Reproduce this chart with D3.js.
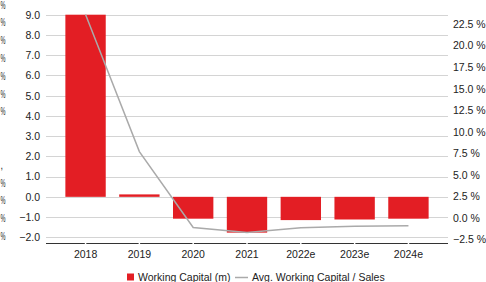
<!DOCTYPE html>
<html>
<head>
<meta charset="utf-8">
<script src="https://cdn.jsdelivr.net/npm/d3@7"></script>
<style>
  html, body { margin: 0; padding: 0; background: #fff; }
  svg { display: block; font-family: "Liberation Sans", Arial, sans-serif; }
</style>
</head>
<body>
<svg id="chart" width="486" height="282"></svg>
<script>
// ---- data ----
const categories = ["2018", "2019", "2020", "2021", "2022e", "2023e", "2024e"];
const workingCapital = [9.0, 0.12, -1.08, -1.77, -1.15, -1.12, -1.08];
const wcToSales = [23.6, 7.7, -1.1, -1.7, -1.13, -0.97, -0.9];
const leftTicks = [9, 8, 7, 6, 5, 4, 3, 2, 1, 0, -1, -2];
const rightTicks = [22.5, 20, 17.5, 15, 12.5, 10, 7.5, 5, 2.5, 0, -2.5];
const seriesNames = ["Working Capital (m)", "Avg. Working Capital / Sales"];
// labels of the neighbouring chart visible at the left edge
const ghostLabels = ["%", "%", "%", "%", "%", "%", "%", "", "", ",", "%", "%", "%", "%"];

// ---- layout ----
const plotLeft = 46, plotRight = 448;
const red = "#e31e24", grey = "#aaaaaa", grid = "#d4d4d4", textCol = "#222";
const fs = 10.5;

const svg = d3.select("#chart");

const x = d3.scaleBand().domain(categories).range([plotLeft, plotRight])
  .paddingInner(0.25).paddingOuter(0.36);
const yL = d3.scaleLinear().domain([-2, 9]).range([237.3, 14.7]);
const yR = d3.scaleLinear().domain([-2.5, 22.5]).range([239.5, 24]);
const yG = d3.scaleLinear().domain([0, 13]).range([5, 236.4]);

// gridlines
svg.append("g").selectAll("line").data(leftTicks).join("line")
  .attr("x1", plotLeft).attr("x2", plotRight)
  .attr("y1", d => Math.round(yL(d)) + 0.5).attr("y2", d => Math.round(yL(d)) + 0.5)
  .attr("stroke", grid).attr("stroke-width", 1);

// left axis labels
const axL = svg.append("g").attr("transform", `translate(${plotLeft},0)`)
  .call(d3.axisLeft(yL).tickValues(leftTicks).tickSize(0).tickPadding(6).tickFormat(d3.format(".1f")));
axL.select(".domain").remove();
axL.selectAll("text").attr("font-size", fs).attr("fill", textCol).attr("font-family", "Liberation Sans, Arial, sans-serif");

// right axis labels
const axR = svg.append("g").attr("transform", `translate(${plotRight},0)`)
  .call(d3.axisRight(yR).tickValues(rightTicks).tickSize(0).tickPadding(5)
    .tickFormat(d => d3.format(".1f")(d) + " %"));
axR.select(".domain").remove();
axR.selectAll("text").attr("font-size", fs).attr("fill", textCol).attr("font-family", "Liberation Sans, Arial, sans-serif");

// bars
svg.append("g").selectAll("rect").data(categories).join("rect")
  .attr("x", d => x(d))
  .attr("width", x.bandwidth())
  .attr("y", (d, i) => yL(Math.max(0, workingCapital[i])))
  .attr("height", (d, i) => Math.abs(yL(workingCapital[i]) - yL(0)))
  .attr("fill", red);

// line
const line = d3.line()
  .x((d, i) => x(categories[i]) + x.bandwidth() / 2)
  .y(d => yR(d));
svg.append("path").datum(wcToSales)
  .attr("d", line).attr("fill", "none")
  .attr("stroke", grey).attr("stroke-width", 1.5);

// x axis
const axisY = 243.5;
const axB = svg.append("g").attr("transform", `translate(0,${axisY})`)
  .call(d3.axisBottom(x).tickSize(0).tickPadding(7));
axB.select(".domain").attr("stroke", "#333").attr("stroke-width", 1)
  .attr("d", `M${plotLeft},0H${plotRight}`);
axB.selectAll("text").attr("font-size", fs).attr("fill", textCol).attr("font-family", "Liberation Sans, Arial, sans-serif");
axB.selectAll(".tick").append("line")
  .attr("y1", -1).attr("y2", 1.5).attr("stroke", "#fff").attr("stroke-width", 1.5);

// legend
const leg = svg.append("g").attr("font-size", fs).attr("fill", textCol);
const legY = 277;
leg.append("rect").attr("x", 127).attr("y", legY - 3.5).attr("width", 7).attr("height", 7).attr("fill", red);
leg.append("text").attr("x", 138).attr("y", legY).attr("dy", "0.35em").text(seriesNames[0]).attr("fill", textCol);
leg.append("line").attr("x1", 235).attr("x2", 248).attr("y1", legY + 0.5).attr("y2", legY + 0.5)
  .attr("stroke", grey).attr("stroke-width", 1.5);
leg.append("text").attr("x", 252).attr("y", legY).attr("dy", "0.35em").text(seriesNames[1]).attr("fill", textCol);

// neighbouring labels at the very left edge (kept inside the frame, narrowed)
svg.append("g").selectAll("text").data(ghostLabels.map((t, i) => ({t, i})).filter(d => d.t !== "")).join("text")
  .attr("x", 0.5)
  .attr("y", d => yG(d.i)).attr("dy", "0.35em")
  .attr("font-size", fs).attr("fill", textCol)
  .attr("textLength", d => d.t === "," ? 2.5 : 5)
  .attr("lengthAdjust", "spacingAndGlyphs")
  .text(d => d.t);
</script>
</body>
</html>
